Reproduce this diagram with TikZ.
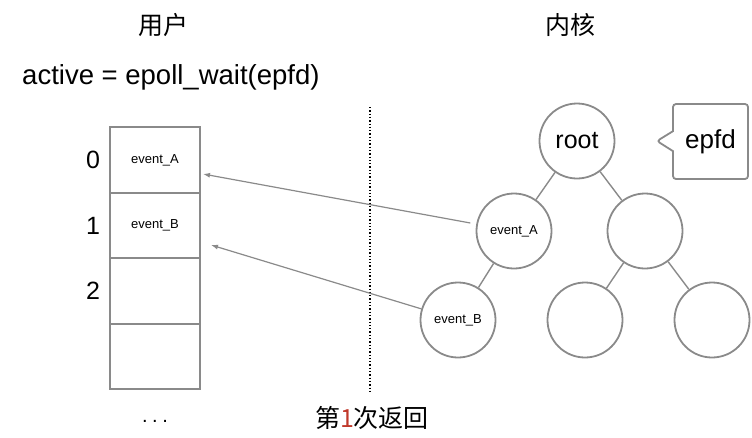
\documentclass[tikz,border=0pt]{standalone}
\usepackage{fontspec}
\setmainfont{Liberation Sans}
\newfontfamily\cjk{Noto Sans CJK SC}
\usetikzlibrary{arrows.meta, shapes.callouts}
\definecolor{linegray}{HTML}{8A8A8A}
\definecolor{numred}{HTML}{C0392B}

\begin{document}
\begin{tikzpicture}[x=1pt, y=-1pt, line width=1.8pt,
  tnode/.style={circle, draw=linegray, minimum size=75pt, inner sep=0pt, font=\fontsize{13}{13}\selectfont},
  slot/.style={rectangle, draw=linegray, minimum width=90pt, minimum height=65.5pt, inner sep=0pt, font=\fontsize{13}{13}\selectfont},
  big/.style={font=\fontsize{25}{25}\selectfont},
  edge/.style={draw=linegray, line width=1.4pt},
  ptr/.style={edge, line width=1.2pt, -{Latex[length=7pt,width=5pt]}}]

\useasboundingbox (0,0) rectangle (752,437);

% titles
\node[big] (tu) at (163,25) {\cjk 用户};
\node[big] (tk) at (570,25) {\cjk 内核};
\node[anchor=west, font=\fontsize{27.5}{27.5}\selectfont] (call) at (18,77) {active = epoll\_wait(epfd)};

% user / kernel divider
\coordinate (dtop) at (370,107);
\coordinate (dbot) at (370,393);
\draw[dotted, line width=1.3pt] (dtop) -- (dbot);

% returned array
\foreach\i/\t in {0/event\_A,1/event\_B,2/,3/}
{
  \node[slot] (s\i) at (155,{160+65.5*\i}) {\t};
}
\foreach\i in {0,1,2}
  \node[big] (n\i) at (93,{160+65.5*\i}) {\i};
\node[font=\fontsize{20}{20}\selectfont] (more) at (155,421) {.\hspace{4.5pt}.\hspace{4.5pt}.};

% kernel tree
\node[tnode, big] (root) at (577,141) {root};
\node[tnode] (eA) at (514,231) {event\_A};
\node[tnode] (r1) at (645,231) {};
\node[tnode] (eB) at (458,320) {event\_B};
\node[tnode] (r2) at (585,320) {};
\node[tnode] (r3) at (712,320) {};
\draw[edge] (root) -- (eA);
\draw[edge] (root) -- (r1);
\draw[edge] (eA) -- (eB);
\draw[edge] (r1) -- (r2);
\draw[edge] (r1) -- (r3);

% epfd callout
\coordinate (tip) at (657,141);
\node[rectangle callout, draw=linegray, rounded corners=3pt, minimum width=75pt, minimum height=75pt,
  callout absolute pointer={(tip)}, callout pointer width=20pt, font=\fontsize{26}{26}\selectfont] (fd) at (710.5,141.5) {epfd};

% copies to user space
\coordinate (hA) at (203,174);
\coordinate (hB) at (211,245);
\draw[ptr, shorten <=6pt] (eA) -- (hA);
\draw[ptr] (eB) -- (hB);

\node[big] (ret) at (372,418) {\cjk 第\textcolor{numred}{1}次返回};
\end{tikzpicture}
\end{document}
